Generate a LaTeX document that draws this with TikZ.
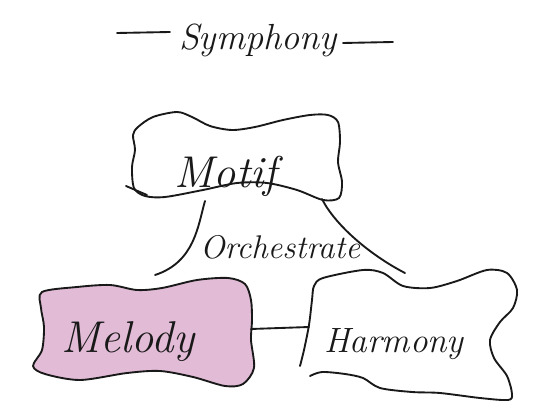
\documentclass[tikz,border=0pt]{standalone}
\definecolor{ink}{RGB}{25, 25, 25}
\definecolor{melodypink}{RGB}{226, 188, 214}

\begin{document}
\begin{tikzpicture}[
  x=0.03cm, y=-0.03cm,
  sketch/.style={draw=ink, line width=1.6pt, line cap=round, line join=round},
  link/.style={sketch},
  headword/.style={anchor=base, text=ink, font=\fontsize{31}{31}\selectfont\itshape},
  boxword/.style={anchor=base, text=ink, font=\fontsize{38}{38}\selectfont\itshape},
  linkword/.style={anchor=base, text=ink, font=\fontsize{28}{28}\selectfont\itshape}
]
  \useasboundingbox (0,0) rectangle (534,401);

  \node[headword] (head) at (258,50) {Symphony};
  \draw[sketch] (117,33) -- (170,32);
  \draw[sketch] (343,43) -- (393,42);

  \draw[sketch] plot[smooth cycle] coordinates {(138,127) (153,117) (177,112) (192,117) (210,126)
    (232,130) (255,127) (283,120) (310,115) (328,115) (338,122) (340,142) (338,162) (342,182)
    (339,198) (323,200) (297,190) (267,183) (237,183) (203,190) (165,197) (145,196) (134,188)
    (132,167) (135,150) (133,135)};
  \draw[sketch] (126,186) -- (147,195);
  \node[boxword] (motif) at (226,188) {Motif};

  \draw[sketch, fill=melodypink] plot[smooth cycle] coordinates {(42,292) (77,287) (110,285)
    (137,290) (162,288) (197,280) (228,278) (245,284) (251,300) (252,320) (251,340) (254,368)
    (243,384) (225,386) (193,377) (160,371) (127,373) (80,380) (45,374) (33,366) (42,350)
    (44,327) (41,308)};
  \node[boxword] (melody) at (128,352) {Melody};

  \draw[sketch] plot[smooth] coordinates {(300,366) (304,350) (309,325) (312,300) (314,286)
    (323,278) (363,270) (383,273) (403,286) (430,288) (457,281) (487,270) (507,273) (517,290)
    (513,308) (500,322) (490,340) (494,358) (507,376) (512,394) (508,400) (480,398) (440,393)
    (412,392) (380,388) (363,378) (345,374) (322,372) (310,376)};
  \node[boxword, font=\fontsize{30}{30}\selectfont\itshape] (harmony) at (394,352) {Harmony};

  \coordinate (motifL) at (205,201);
  \coordinate (motifR) at (322,199);
  \coordinate (orchL) at (155,275);
  \coordinate (orchR) at (405,273);
  \coordinate (melodyE) at (251,329);
  \coordinate (harmonyW) at (309,327);

  \node[linkword] (orch) at (280,259) {Orchestrate};
  \draw[link] (motifL) .. controls (198,225) and (195,262) .. (orchL);
  \draw[link] (motifR) .. controls (335,225) and (370,255) .. (orchR);
  \draw[link] (melodyE) -- (harmonyW);
\end{tikzpicture}
\end{document}
